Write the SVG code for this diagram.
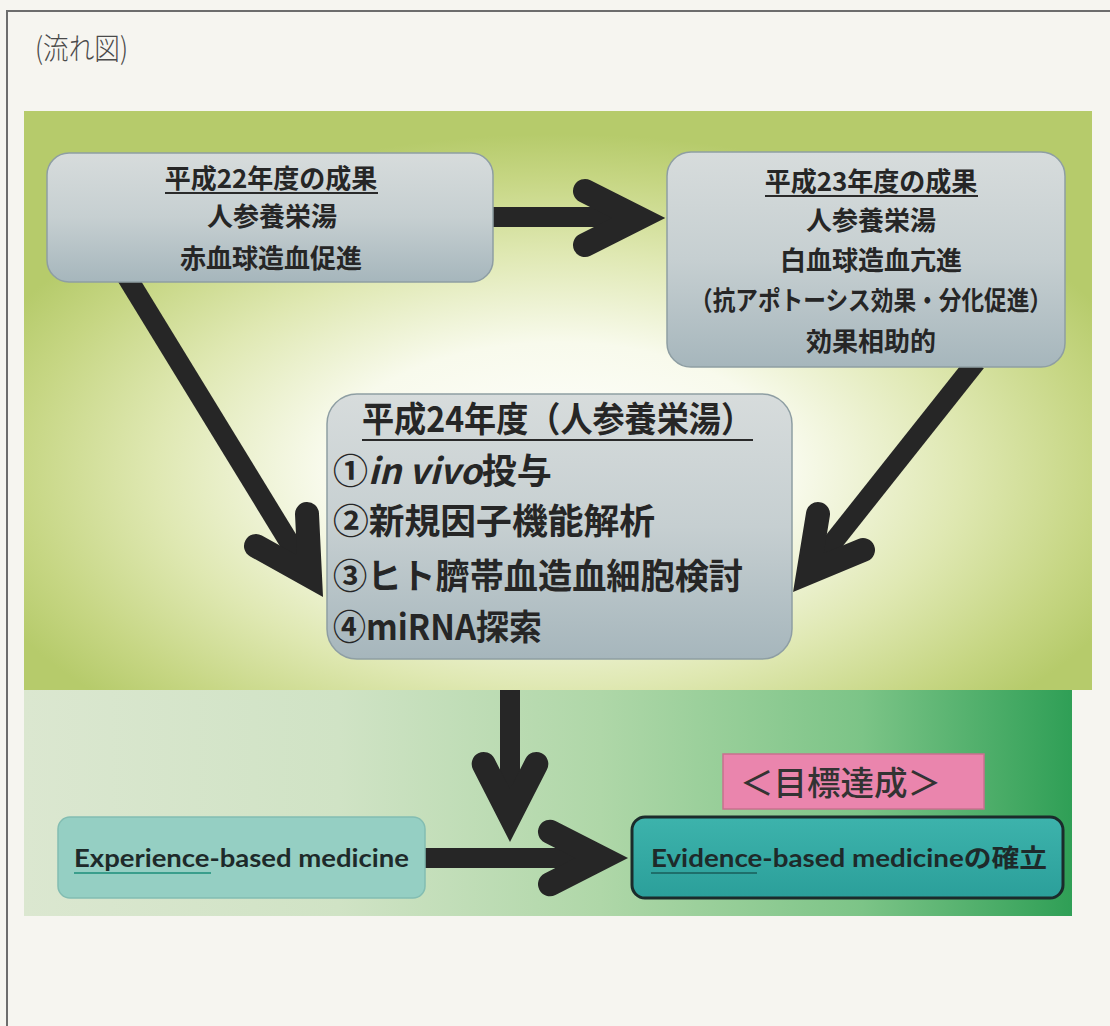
<svg xmlns="http://www.w3.org/2000/svg" width="1110" height="1026" viewBox="0 0 1110 1026">
<defs>
<radialGradient id="gTop" cx="0.5" cy="0.62" r="0.58">
<stop offset="0" stop-color="#ffffff"/>
<stop offset="0.38" stop-color="#f8faec"/>
<stop offset="0.65" stop-color="#dfe8b2"/>
<stop offset="0.87" stop-color="#c6d683"/>
<stop offset="1" stop-color="#b6cb6b"/>
</radialGradient>
<linearGradient id="gBot" x1="0" y1="0" x2="1" y2="0">
<stop offset="0" stop-color="#dbe7d0"/>
<stop offset="0.3" stop-color="#d0e3c5"/>
<stop offset="0.55" stop-color="#afd7a8"/>
<stop offset="0.8" stop-color="#7cc487"/>
<stop offset="1" stop-color="#2f9f56"/>
</linearGradient>
<linearGradient id="gBox" x1="0" y1="0" x2="0" y2="1">
<stop offset="0" stop-color="#d7dcdc"/>
<stop offset="0.5" stop-color="#c6cfd1"/>
<stop offset="1" stop-color="#a6b6bc"/>
</linearGradient>
<linearGradient id="gEvi" x1="0" y1="0" x2="0" y2="1">
<stop offset="0" stop-color="#3db3ac"/>
<stop offset="1" stop-color="#2b9f9a"/>
</linearGradient>
<style>
.box{fill:url(#gBox);stroke:#8e9ea3;stroke-width:1.5}
.jp{font-family:"Noto Sans CJK JP","Noto Sans",sans-serif;font-weight:700;fill:#262626}
.s26{font-size:26px}
.s35{font-size:35px}
.en{font-family:Lato,"Noto Sans CJK JP","Liberation Sans",sans-serif;font-weight:700;font-size:25px;fill:#1e2a2a}
.ul{stroke:#2a2a2a;stroke-width:2}
.shaft{stroke:#262626;stroke-width:20;fill:none;stroke-linecap:butt}
.head{stroke:#262626;stroke-width:24;fill:none;stroke-linecap:round;stroke-linejoin:miter;stroke-miterlimit:10}
</style>
</defs>
<rect x="0" y="0" width="1110" height="1026" fill="#f6f5f0"/>
<path d="M7,1026 V11 H1110" fill="none" stroke="#6d6d6d" stroke-width="2"/>
<text x="35" y="59" font-family="'Noto Sans CJK JP',sans-serif" font-size="30" fill="#4a4a4a" font-weight="300" textLength="93" lengthAdjust="spacingAndGlyphs">(流れ図)</text>
<rect x="24" y="111" width="1068" height="579" fill="url(#gTop)"/>
<rect x="24" y="690" width="1048" height="226" fill="url(#gBot)"/>

<g id="connectors">
<line class="shaft" x1="480" y1="217" x2="625" y2="217"/>
<path class="head" d="M585,191 L638.6,218 L585,245"/>
<line class="shaft" x1="125" y1="274" x2="305" y2="568"/>
<path class="head" d="M307,514 L310,576 L256,546"/>
<line class="shaft" x1="976" y1="362" x2="815" y2="565"/>
<path class="head" d="M818,514 L808.4,572.7 L863,550"/>
<line class="shaft" x1="510" y1="690" x2="510" y2="805"/>
<path class="head" d="M483.7,764 L510,815.6 L536.3,764"/>
<line class="shaft" x1="420" y1="858" x2="595" y2="858"/>
<path class="head" d="M550,831.7 L601.6,858 L550,884.3"/>
</g>

<g id="node-h22">
<rect class="box" x="47" y="153" width="446" height="129" rx="22"/>
<text class="jp s26" x="271" y="188" text-anchor="middle">平成22年度の成果</text>
<line class="ul" x1="165" y1="193" x2="378" y2="193"/>
<text class="jp s26" x="272" y="226" text-anchor="middle">人参養栄湯</text>
<text class="jp s26" x="271" y="268" text-anchor="middle">赤血球造血促進</text>
</g>

<g id="node-h23">
<rect class="box" x="667" y="152" width="398" height="215" rx="24"/>
<text class="jp s26" x="871" y="191" text-anchor="middle">平成23年度の成果</text>
<line class="ul" x1="765" y1="196" x2="978" y2="196"/>
<text class="jp s26" x="871" y="230" text-anchor="middle">人参養栄湯</text>
<text class="jp s26" x="871" y="270" text-anchor="middle">白血球造血亢進</text>
<text class="jp s26" x="690" y="310" textLength="362" lengthAdjust="spacingAndGlyphs">（抗アポトーシス効果・分化促進）</text>
<text class="jp s26" x="871" y="351" text-anchor="middle">効果相助的</text>
</g>

<g id="node-h24">
<rect class="box" x="327" y="394" width="465" height="265" rx="30"/>
<text class="jp s35" x="362" y="432" textLength="391" lengthAdjust="spacingAndGlyphs">平成24年度（人参養栄湯）</text>
<line class="ul" x1="362" y1="440" x2="753" y2="440" stroke-width="2.5"/>
<text class="jp s35" x="333" y="484">①<tspan font-style="italic">in vivo</tspan>投与</text>
<text class="jp s35" x="333" y="534" textLength="322" lengthAdjust="spacingAndGlyphs">②新規因子機能解析</text>
<text class="jp s35" x="333" y="589" textLength="410" lengthAdjust="spacingAndGlyphs">③ヒト臍帯血造血細胞検討</text>
<text class="jp s35" x="333" y="640" textLength="209" lengthAdjust="spacingAndGlyphs">④miRNA探索</text>
</g>

<g id="node-goal">
<rect x="723" y="754" width="261" height="55" fill="#ea85ad" stroke="#c9708f" stroke-width="1.5"/>
<text x="740" y="795" font-family="'Noto Sans CJK JP',sans-serif" font-size="33" font-weight="500" fill="#333" textLength="201" lengthAdjust="spacingAndGlyphs">＜目標達成＞</text>
</g>

<g id="node-experience">
<rect x="58" y="817" width="367" height="81" rx="12" fill="#95cfc3" stroke="#83bdb2" stroke-width="1.5"/>
<text class="en" x="74" y="867" textLength="335" lengthAdjust="spacingAndGlyphs">Experience-based medicine</text>
<line x1="74" y1="873" x2="211" y2="873" stroke="#3a9e8c" stroke-width="2"/>
</g>

<g id="node-evidence">
<rect x="632" y="817" width="431" height="81" rx="13" fill="url(#gEvi)" stroke="#1b2b2b" stroke-width="3"/>
<text class="en" x="651" y="867" textLength="396" lengthAdjust="spacingAndGlyphs">Evidence-based medicine<tspan font-family="'Noto Sans CJK JP',sans-serif">の確立</tspan></text>
<line x1="651" y1="873" x2="757" y2="873" stroke="#1e6f6b" stroke-width="2"/>
</g>
</svg>
